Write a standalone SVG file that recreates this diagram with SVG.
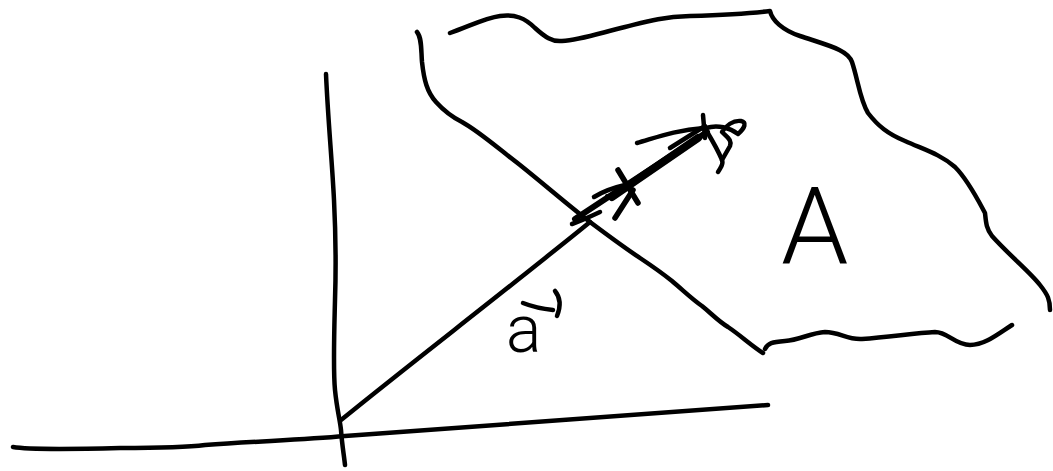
<svg xmlns="http://www.w3.org/2000/svg" width="1053" height="471" viewBox="0 0 1053 471">
<style>
.s{fill:none;stroke:#000;stroke-width:4.5;stroke-linecap:round;stroke-linejoin:round}
.t{font-family:Roboto,"Liberation Sans",sans-serif;fill:#000}
</style>
<rect width="1053" height="471" fill="#fff"/>
<g id="axes">
<path class="s" d="M326,74 C328,120 332,160 334,200 C336,240 336,270 335,300 C334,340 333,370 335,390 C337,410 340,420 341,430 C342,445 344,455 345,465"/>
<path class="s" d="M13,447 C30,450 80,449 120,448 C160,448 190,447 205,445 C260,441 300,440 345,436 C480,427 620,415 768,405"/>
</g>
<g id="region-A">
<path class="s" d="M417,32 C422,38 421,50 422,62 C424,80 427,92 436,102 C445,112 452,117 462,122 C480,132 500,150 520,165 C545,185 568,205 590,222 C610,237 625,248 640,258 C652,266 662,273 672,281 C685,292 692,299 702,306 C712,314 718,321 728,327 C740,335 752,346 763,353"/>
<path class="s" d="M450,33 C470,26 485,18 500,16 C515,14 525,18 535,28 C545,37 552,42 562,41 C580,40 600,33 625,27 C645,22 660,17 690,16 C720,15 745,14 770,11 C772,20 782,30 800,36 C830,46 848,50 852,62 C858,80 860,100 868,113 C878,126 888,134 905,141 C925,150 940,154 955,167 C968,180 978,200 985,213 C986,222 986,228 992,236 C1010,256 1030,272 1040,285 C1048,295 1050,300 1050,310"/>
<path class="s" d="M765,349 C768,343 772,342 785,341 C800,340 810,333 825,332 C840,332 847,340 862,339 C890,337 915,333 935,332 C948,332 955,345 970,345 C985,345 998,334 1012,325"/>
<text class="t" x="781" y="263" font-size="108" font-weight="300">A</text>
</g>
<g id="vector-a">
<path class="s" d="M341,420 C400,372 470,318 520,278 C545,258 568,240 590,222"/>
<path class="s" style="stroke-width:6" d="M575,219 L707,132"/>
<path class="s" style="stroke-width:8" d="M612,197 L698,138"/>
<path class="s" d="M572,224 C578,222 585,219 600,212"/>
<path class="s" d="M594,197 C602,192 612,188 625,185"/>
<path class="s" style="stroke-width:5.5" d="M618,170 L638,203"/>
<path class="s" style="stroke-width:5.5" d="M615,218 L633,190"/>
<circle cx="607" cy="196" r="2"/>
<path class="s" d="M637,143 C655,138 675,130 704,128"/>
<path class="s" d="M670,148 L705,126"/>
<path class="s" d="M703,115 L705,138"/>
<path class="s" d="M706,130 C712,140 718,150 722,160 C724,165 720,168 718,172"/>
<path class="s" d="M706,128 C718,124 730,128 738,134 C745,128 747,122 741,121 C733,120 726,126 722,132 C728,138 732,140 730,146 L722,160"/>
<text class="t" x="506" y="352" font-size="66" font-weight="300">a</text>
<path class="s" d="M523,303 C533,307 543,309 553,310"/>
<path class="s" d="M555,291 C560,297 561,306 557,316"/>
</g>
</svg>
